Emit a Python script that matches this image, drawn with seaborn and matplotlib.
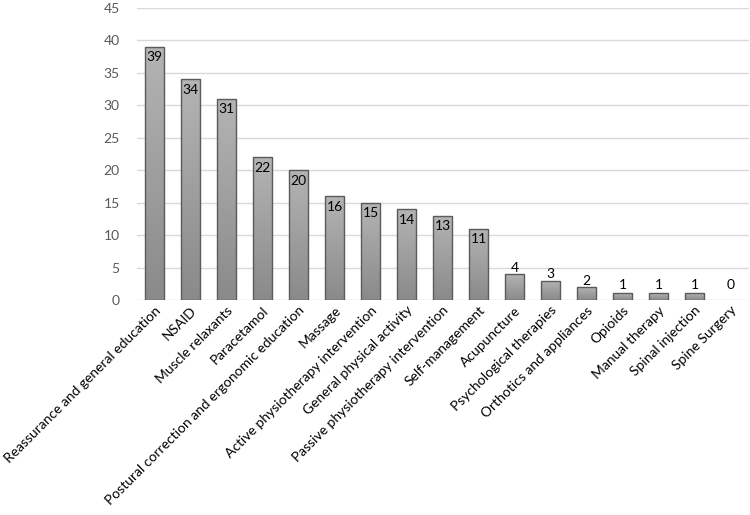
import numpy as np
import pandas as pd
import matplotlib
matplotlib.use("Agg")
import matplotlib.pyplot as plt
import seaborn as sns

# Data
treatments = [
    "Reassurance and general education", "NSAID", "Muscle relaxants", "Paracetamol",
    "Postural correction and ergonomic education", "Massage",
    "Active physiotherapy intervention", "General physical activity",
    "Passive physiotherapy intervention", "Self-management", "Acupuncture",
    "Psychological therapies", "Orthotics and appliances", "Opioids",
    "Manual therapy", "Spinal injection", "Spine Surgery",
]
counts = [39, 34, 31, 22, 20, 16, 15, 14, 13, 11, 4, 3, 2, 1, 1, 1, 0]
y_ticks = list(range(0, 50, 5))

df = pd.DataFrame({"treatment": treatments, "count": counts})

sns.set_style("white")
plt.rcParams["font.family"] = ["Lato", "DejaVu Sans"]

fig = plt.figure(figsize=(7.5, 5.15), dpi=100)
ax = fig.add_axes([0.182, 0.4175, 0.816, 0.567])

sns.barplot(data=df, x="treatment", y="count", color="#a0a0a0",
            width=0.53, edgecolor="#5a5a5a", linewidth=1.0, ax=ax, zorder=3)

# gradient fill like the Excel bars (lighter at top)
grad = np.linspace(1, 0, 256).reshape(-1, 1)
cmap = matplotlib.colors.LinearSegmentedColormap.from_list("g", ["#8a8a8a", "#b4b4b4"])
for p in ax.patches:
    x0, y0 = p.get_x(), p.get_y()
    w, h = p.get_width(), p.get_height()
    if h <= 0:
        p.set_visible(False)
        continue
    im = ax.imshow(grad, cmap=cmap, aspect="auto", extent=[x0, x0 + w, y0, y0 + h],
                   zorder=3.5, origin="upper")
    im.set_clip_path(p)
    p.set_facecolor("none")
    p.set_zorder(4)

# data labels: inside the top for tall bars, above for short ones
for i, v in enumerate(counts):
    if v >= 10:
        ax.text(i, v - 0.7, str(v), ha="center", va="top", fontsize=10, color="black", zorder=5)
    else:
        ax.text(i, max(v + 1.0, 2.3), str(v), ha="center", va="center", fontsize=10,
                color="black", zorder=5)

ax.set_xlim(-0.5, len(counts) - 0.5)
ax.set_ylim(0, 45)
ax.set_yticks(y_ticks)
ax.yaxis.grid(True, color="#d9d9d9", linewidth=1, zorder=0)
ax.set_axisbelow(True)
for s in ax.spines.values():
    s.set_visible(False)
ax.set_xlabel("")
ax.set_ylabel("")
ax.tick_params(axis="y", length=0, labelsize=10, labelcolor="#595959", pad=12)
ax.tick_params(axis="x", length=0, labelsize=10, labelcolor="black", pad=3)
plt.setp(ax.get_xticklabels(), rotation=45, ha="right", rotation_mode="anchor")

fig.savefig("out.png", dpi=100)
